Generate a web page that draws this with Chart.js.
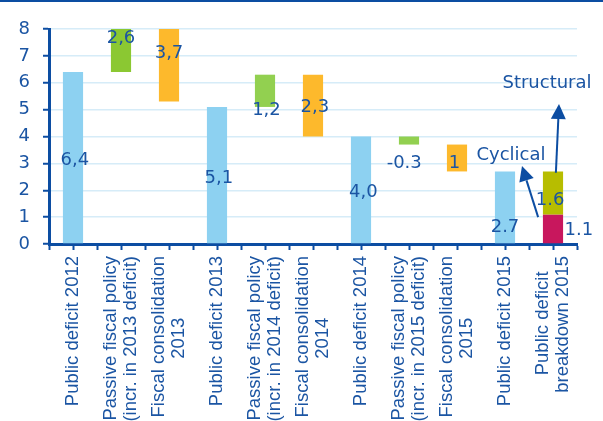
<!DOCTYPE html>
<html>
<head>
<meta charset="utf-8">
<script src="https://cdn.jsdelivr.net/npm/chart.js@4.4.1/dist/chart.umd.min.js"></script>
<style>
  html, body { margin: 0; padding: 0; background: #fff; }
  #wrap { width: 603px; height: 421px; position: relative; }
</style>
</head>
<body>
<div id="wrap"><canvas id="myChart"></canvas></div>
<script>
// categories (x axis), several lines each
var categories = [
  ['Public deficit 2012'],
  ['Passive fiscal policy', '(incr. in 2013 deficit)'],
  ['Fiscal consolidation', '2013'],
  ['Public deficit 2013'],
  ['Passive fiscal policy', '(incr. in 2014 deficit)'],
  ['Fiscal consolidation', '2014'],
  ['Public deficit 2014'],
  ['Passive fiscal policy', '(incr. in 2015 deficit)'],
  ['Fiscal consolidation', '2015'],
  ['Public deficit 2015'],
  ['Public deficit', 'breakdown 2015']
];
// floating bars: bottom and top of each bar (% of GDP)
var barLow  = [0,   6.4, 5.3, 0,   5.1, 4.0, 0,   3.7, 2.7, 0,   1.1];
var barHigh = [6.4, 9.0, 9.0, 5.1, 6.3, 6.3, 4.0, 4.0, 3.7, 2.7, 2.7];
// cyclical part of the 2015 deficit
var cyclical = [null, null, null, null, null, null, null, null, null, null, 1.1];

var valueLabels = ['6,4', '2,6', '3,7', '5,1', '1,2', '2,3', '4,0', '-0.3', '1', '2.7', '1.6'];
var cyclicalLabel = '1.1';
var yTicks = [0, 1, 2, 3, 4, 5, 6, 7, 8];

// where the value texts sit (y in axis units, x shift in categories)
var labelAt = [3.1, 7.67, 7.1, 2.46, 4.99, 5.1, 1.93, 3.0, 3.0, 0.63, 1.64];
var labelDx = [0.04, 0, 0, 0.04, 0.03, 0.04, 0.05, -0.1, -0.05, 0, -0.06];

var blueLight = '#8DD1F1', green1 = '#8BC832', green2 = '#92D050', orange = '#FDB92C',
    olive = '#B7BD00', crimson = '#C8175D';
var barColors = [blueLight, green1, orange, blueLight, green2, orange, blueLight, green2, orange, blueLight, olive];

var axisBlue = '#0C4DA2';
var textBlue = '#1B55A3';
var gridBlue = '#D6ECF8';
var sansX = '"Liberation Sans", Arial, sans-serif';
var sansW = '"DejaVu Sans", sans-serif';
var X_FONT = 18.5;
var LINE_H = 20;

// pad the shorter lines with spaces so rotated lines look centred
var measure = document.createElement('canvas').getContext('2d');
measure.font = X_FONT + 'px ' + sansX;
function centreLines(lines) {
  if (lines.length < 2) return lines;
  var widths = lines.map(function (l) { return measure.measureText(l).width; });
  var maxW = Math.max.apply(null, widths);
  var sp = measure.measureText(' ').width;
  return lines.map(function (l, i) {
    var n = Math.round((maxW - widths[i]) / 2 / sp);
    return l + new Array(n + 1).join(' ');
  });
}

function buildLabelTicks(scale) {
  var list = [];
  for (var v = -0.5; v <= 10.5 + 1e-9; v += 0.5) list.push({ value: v, mark: true });
  var perUnit = scale.width / (scale.max - scale.min);
  categories.forEach(function (lines, i) {
    list.push({
      value: i - (lines.length - 1) * LINE_H / 2 / perUnit,
      lines: centreLines(lines)
    });
  });
  list.sort(function (a, b) { return a.value - b.value; });
  scale.ticks = list;
}

var annotations = {
  id: 'annotations',
  beforeDraw: function (chart) {
    var ctx = chart.ctx;
    ctx.save();
    ctx.fillStyle = axisBlue;
    ctx.fillRect(0, 0, chart.width, 2);
    ctx.restore();
  },
  afterDatasetsDraw: function (chart) {
    var ctx = chart.ctx, xs = chart.scales.x, ys = chart.scales.y;
    ctx.save();
    ctx.font = '18px ' + sansW;
    ctx.fillStyle = textBlue;
    ctx.textAlign = 'center';
    ctx.textBaseline = 'middle';
    valueLabels.forEach(function (t, i) {
      ctx.fillText(t, xs.getPixelForValue(i + labelDx[i]), ys.getPixelForValue(labelAt[i]));
    });
    ctx.fillText(cyclicalLabel, xs.getPixelForValue(10.54), ys.getPixelForValue(0.52));
    ctx.fillText('Structural', xs.getPixelForValue(9.875), ys.getPixelForValue(5.97));
    ctx.fillText('Cyclical', xs.getPixelForValue(9.125), ys.getPixelForValue(3.3));

    // arrows
    function arrow(x0, y0, x1, y1) {
      var ax = xs.getPixelForValue(x0), ay = ys.getPixelForValue(y0);
      var bx = xs.getPixelForValue(x1), by = ys.getPixelForValue(y1);
      var ang = Math.atan2(by - ay, bx - ax), len = 15, half = 7.5;
      var cx = bx - len * Math.cos(ang), cy = by - len * Math.sin(ang);
      ctx.strokeStyle = axisBlue;
      ctx.fillStyle = axisBlue;
      ctx.lineWidth = 2;
      ctx.beginPath(); ctx.moveTo(ax, ay); ctx.lineTo(cx, cy); ctx.stroke();
      ctx.beginPath();
      ctx.moveTo(bx, by);
      ctx.lineTo(cx + half * Math.sin(ang), cy - half * Math.cos(ang));
      ctx.lineTo(cx - half * Math.sin(ang), cy + half * Math.cos(ang));
      ctx.closePath(); ctx.fill();
    }
    arrow(10.06, 2.65, 10.125, 5.21);
    arrow(9.69, 1.0, 9.354, 2.9);
    ctx.restore();
  }
};

var ctx = document.getElementById('myChart');

var chartGraph = new Chart(ctx, {
  type: 'bar',
  data: {
    labels: categories,
    datasets: [{
      label: 'deficit',
      data: barLow.map(function (lo, i) { return [lo, barHigh[i]]; }),
      backgroundColor: barColors,
      barPercentage: 0.42,
      categoryPercentage: 1,
      grouped: false,
      clip: 0,
      xAxisID: 'x'
    }, {
      label: 'cyclical',
      data: cyclical.map(function (v) { return v === null ? null : [0, v]; }),
      backgroundColor: crimson,
      barPercentage: 0.42,
      categoryPercentage: 1,
      grouped: false,
      clip: 0,
      xAxisID: 'x'
    }]
  },
  options: {
    responsive: true,
    maintainAspectRatio: false,
    animation: false,
    layout: { padding: { top: 29, right: 26, bottom: 0, left: 0 } },
    plugins: { legend: { display: false }, tooltip: { enabled: false } },
    scales: {
      x: { display: false, offset: true },
      xl: {
        type: 'linear',
        position: 'bottom',
        offset: false,
        min: -0.5,
        max: 10.5,
        afterBuildTicks: buildLabelTicks,
        afterFit: function (s) { s.height = 177; },
        ticks: {
          autoSkip: false,
          minRotation: 90,
          maxRotation: 90,
          padding: 6,
          color: textBlue,
          font: { family: sansX, size: X_FONT, lineHeight: LINE_H + 'px' },
          callback: function (v, i, ticks) { return ticks[i].lines || ''; }
        },
        grid: {
          offset: false,
          drawOnChartArea: false,
          tickLength: 6,
          tickWidth: 2,
          tickColor: function (c) { return c.tick && c.tick.mark ? axisBlue : 'rgba(0,0,0,0)'; }
        },
        border: { color: axisBlue, width: 3 }
      },
      y: {
        min: 0,
        max: 8,
        afterBuildTicks: function (s) { s.ticks = yTicks.map(function (v) { return { value: v }; }); },
        afterFit: function (s) { s.width = 49; },
        ticks: { color: textBlue, padding: 13, font: { family: sansW, size: 18 } },
        grid: {
          color: function (c) { return c.tick && c.tick.value === 0 ? 'rgba(0,0,0,0)' : gridBlue; },
          lineWidth: 1.5,
          tickColor: axisBlue,
          tickLength: 6,
          tickWidth: 2
        },
        border: { color: axisBlue, width: 3 }
      }
    }
  },
  plugins: [annotations]
});
</script>
</body>
</html>
